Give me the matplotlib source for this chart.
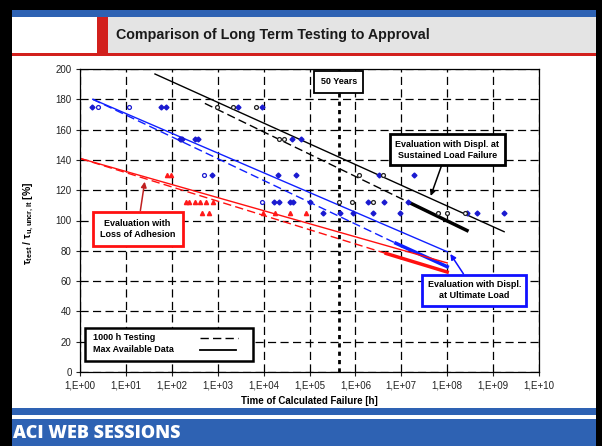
import matplotlib
matplotlib.use('Agg')
import matplotlib.pyplot as plt
from matplotlib.patches import Rectangle
from matplotlib.lines import Line2D

plt.rcParams['font.family'] = ['Liberation Sans', 'DejaVu Sans']
plt.rcParams['mathtext.fontset'] = 'custom'
plt.rcParams['mathtext.rm'] = 'Liberation Sans:bold'
plt.rcParams['mathtext.bf'] = 'Liberation Sans:bold'
plt.rcParams['mathtext.it'] = 'Liberation Sans:bold'

# ---------------- data ----------------
title = 'Comparison of Long Term Testing to Approval'
x_label = 'Time of Calculated Failure [h]'
x_ticks = [1e0, 1e1, 1e2, 1e3, 1e4, 1e5, 1e6, 1e7, 1e8, 1e9, 1e10]
x_ticklabels = ['1,E+00', '1,E+01', '1,E+02', '1,E+03', '1,E+04', '1,E+05',
                '1,E+06', '1,E+07', '1,E+08', '1,E+09', '1,E+10']
y_ticks = [0, 20, 40, 60, 80, 100, 120, 140, 160, 180, 200]
fifty_years_h = 50 * 8760

# regression lines (time [h], value [%])
black_solid_t = [43, 1.74e9]
black_solid_v = [196.7, 92.6]
black_dash_t = [525, 1.6e7]
black_dash_v = [177.3, 111.4]
black_thick_t = [1.6e7, 2.7e8]
black_thick_v = [111.4, 93.4]

blue_solid_t = [1.9, 1.0e8]
blue_solid_v = [180.0, 79.4]
blue_dash_t = [1.9, 7.6e6]
blue_dash_v = [180.0, 85.0]
blue_thick_t = [7.6e6, 1.0e8]
blue_thick_v = [85.0, 69.5]

red_solid_t = [1.0, 1.0e8]
red_solid_v = [141.0, 72.0]
red_dash_t = [1.0, 4.7e6]
red_dash_v = [141.0, 78.2]
red_thick_t = [4.7e6, 1.0e8]
red_thick_v = [78.2, 66.0]

# test points
blue_t = [1.86, 57.5, 74, 2750, 9300,
          148, 158, 170, 316, 372, 41700, 66100,
          760, 20400, 51300, 3.3e6, 1.9e7,
          16600, 21400, 38000, 43600, 1.02e5, 1.86e6, 4.27e6, 1.38e7,
          1.95e5, 4.68e5, 8.7e5, 2.45e6, 9.3e6, 2.75e8, 4.4e8, 1.74e9]
blue_v = [175, 175, 175, 175, 175,
          154, 154, 154, 154, 154, 154, 154,
          130, 130, 130, 130, 130,
          112, 112, 112, 112, 112, 112, 112, 112,
          105, 105, 105, 105, 105, 105, 105, 105]
blue_open_t = [2.5, 11.7, 500, 9300]
blue_open_v = [175, 175, 130, 112]

black_t = [980, 2190, 6900, 21400, 27500, 1.17e6, 3.9e6,
           4.4e5, 8.3e5, 2.45e6, 6.2e7, 1.0e8, 2.45e8]
black_v = [175, 175, 175, 154, 154, 130, 130,
           112, 112, 112, 105, 105, 105]

red_t = [79, 95, 200, 234, 316, 417, 562, 794,
         457, 631, 9800, 17800, 37200, 85000]
red_v = [130, 130, 112, 112, 112, 112, 112, 112,
         105, 105, 105, 105, 105, 105]

# ---------------- figure ----------------
W, H = 602, 446
fig = plt.figure(figsize=(W / 100, H / 100), dpi=100)


def rect(x, y, w, h, color):
    fig.add_artist(Rectangle((x / W, 1 - (y + h) / H), w / W, h / H,
                             transform=fig.transFigure, facecolor=color,
                             edgecolor='none', zorder=-10))


BLUE_BAND = '#2e62b3'
rect(0, 0, W, H, 'black')
rect(12, 10, 584, 436, 'white')
rect(12, 10, 584, 7, BLUE_BAND)
rect(108, 17, 488, 36, '#e4e4e4')
rect(97, 17, 11, 36, '#d2201d')
rect(12, 53, 584, 3, '#d2201d')
rect(12, 408, 584, 7, BLUE_BAND)
rect(12, 419, 584, 27, BLUE_BAND)

fig.text(116 / W, 1 - 35 / H, title, fontsize=10.3, fontweight='bold',
         color='#1a1a1a', va='center', ha='left')
fig.text(13 / W, 1 - 434 / H, 'ACI WEB SESSIONS', fontsize=13,
         fontweight='heavy', color='white', va='center', ha='left',
         family=['Open Sans', 'DejaVu Sans'])

ax = fig.add_axes([80 / W, 1 - 372 / H, 459 / W, 303 / H])
ax.set_xscale('log')
ax.set_xlim(1, 1e10)
ax.set_ylim(0, 200)
ax.set_xticks(x_ticks)
ax.set_xticklabels(x_ticklabels)
ax.xaxis.set_minor_locator(matplotlib.ticker.NullLocator())
ax.set_yticks(y_ticks)
ax.tick_params(labelsize=7, length=3, width=0.8, colors='#222222', pad=3)
ax.grid(True, which='major', color='black', linestyle=(0, (6.5, 3.5)), linewidth=0.9)
ax.set_axisbelow(True)
for s in ax.spines.values():
    s.set_linewidth(0.9)

ax.set_xlabel(x_label, fontsize=7, fontweight='bold')
ax.xaxis.set_label_coords(0.5, -0.08)
ax.set_ylabel(r'τ$_{test}$ / τ$_{u,uncr,lt}$ [%]', fontsize=7.5, fontweight='bold')
ax.yaxis.set_label_coords(-44 / 459, 0.49)

# 50 years
ax.axvline(fifty_years_h, color='black', lw=2, linestyle=(0, (1.5, 1.5)), zorder=3)

# lines
DASH = (0, (6, 3))
ax.plot(black_solid_t, black_solid_v, color='black', lw=1)
ax.plot(black_dash_t, black_dash_v, color='black', lw=1, linestyle=DASH)
ax.plot(black_thick_t, black_thick_v, color='black', lw=2.5)
ax.plot(blue_solid_t, blue_solid_v, color='#1020ff', lw=1)
ax.plot(blue_dash_t, blue_dash_v, color='#1020ff', lw=1, linestyle=DASH)
ax.plot(blue_thick_t, blue_thick_v, color='#1020ff', lw=2.5)
ax.plot(red_solid_t, red_solid_v, color='#ff1010', lw=1)
ax.plot(red_dash_t, red_dash_v, color='#ff1010', lw=1, linestyle=DASH)
ax.plot(red_thick_t, red_thick_v, color='#ff1010', lw=2.5)

# points
ax.plot(blue_t, blue_v, 'D', ms=2.5, color='#1a1ad0', mec='#1a1ad0', zorder=4)
ax.plot(blue_open_t, blue_open_v, 'o', ms=2.8, mfc='white', mec='#1a1ad0', mew=0.9, zorder=4)
ax.plot(black_t, black_v, 'o', ms=2.8, mfc='white', mec='#222222', mew=0.9, zorder=4)
ax.plot(red_t, red_v, '^', ms=3.0, color='#ff1a1a', zorder=4)

# annotations
FS = 6.5
ax.text(fifty_years_h, 191.6, '50 Years', fontsize=FS, fontweight='bold',
        ha='center', va='center', zorder=6,
        bbox=dict(boxstyle='square,pad=0.7', fc='white', ec='black', lw=1.3))
ax.annotate('Evaluation with Displ. at\nSustained Load Failure',
            xy=(4.37e7, 116.2), xytext=(1.0e8, 146.7), fontsize=FS,
            fontweight='bold', ha='center', va='center', zorder=6,
            linespacing=1.3,
            bbox=dict(boxstyle='square,pad=0.6', fc='white', ec='black', lw=2),
            arrowprops=dict(arrowstyle='-|>', color='black', lw=1.1,
                            shrinkA=0, shrinkB=0, mutation_scale=8))
ax.annotate('Evaluation with\nLoss of Adhesion',
            xy=(25.7, 125.6), xytext=(18, 94.5), fontsize=FS,
            fontweight='bold', ha='center', va='center', zorder=6,
            linespacing=1.3,
            bbox=dict(boxstyle='square,pad=0.8', fc='white', ec='#ff1010', lw=2),
            arrowprops=dict(arrowstyle='-|>', color='#c02020', lw=1.1,
                            shrinkA=0, shrinkB=0, mutation_scale=8))
ax.annotate('Evaluation with Displ.\nat Ultimate Load',
            xy=(1.17e8, 77.9), xytext=(3.9e8, 53.9), fontsize=FS,
            fontweight='bold', ha='center', va='center', zorder=6,
            linespacing=1.3,
            bbox=dict(boxstyle='square,pad=0.6', fc='white', ec='#1010ff', lw=2),
            arrowprops=dict(arrowstyle='-|>', color='#1010ff', lw=1.1,
                            shrinkA=0, shrinkB=0, mutation_scale=8))

# legend box
ax.add_patch(Rectangle((5 / 459, 11 / 303), 168 / 459, 33 / 303, transform=ax.transAxes,
                       fc='white', ec='black', lw=1.8, zorder=6))
ax.text(13 / 459, 34 / 303, '1000 h Testing', transform=ax.transAxes, fontsize=FS,
        fontweight='bold', va='center', ha='left', zorder=7)
ax.text(13 / 459, 22 / 303, 'Max Available Data', transform=ax.transAxes, fontsize=FS,
        fontweight='bold', va='center', ha='left', zorder=7)
ax.add_line(Line2D([120 / 459, 158 / 459], [34 / 303, 34 / 303], transform=ax.transAxes,
                   color='black', lw=1, linestyle=(0, (6, 3)), zorder=7))
ax.add_line(Line2D([120 / 459, 156 / 459], [22 / 303, 22 / 303], transform=ax.transAxes,
                   color='black', lw=1.3, zorder=7))

fig.savefig('out.png', dpi=100)
